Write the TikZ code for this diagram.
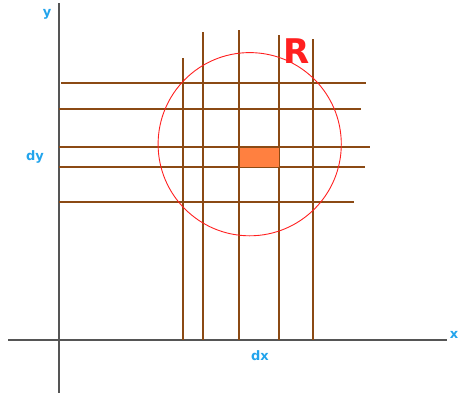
\documentclass[tikz,border=0pt]{standalone}
\usepackage{fontspec}
\setmainfont{DejaVu Sans}
\usepackage{xcolor}

\definecolor{gridbrown}{HTML}{8B4A14}
\definecolor{axisgray}{HTML}{555555}
\definecolor{labelblue}{HTML}{22A4EC}
\definecolor{cellorange}{HTML}{FF8040}
\definecolor{regionred}{HTML}{FF2020}

\begin{document}
\begin{tikzpicture}[
        x=1pt, y=-1pt,
        axis/.style={
            draw=axisgray,
            line width=1.2pt
        },
        gridline/.style={
            draw=gridbrown,
            line width=1.1pt
        },
        axislabel/.style={
            text=labelblue,
            font=\fontsize{13}{13}\selectfont\bfseries,
            inner sep=0pt
        }
    ]
    \useasboundingbox (0,0) rectangle (460,394);

    % axes
    \draw[axis] (59,3) -- (59,393);
    \draw[axis] (8,340) -- (447,340);

    % vertical strips
    \draw[gridline] (183,58) -- (183,340);
    \draw[gridline] (203,32) -- (203,340);
    \draw[gridline] (239,30) -- (239,340);
    \draw[gridline] (279,35) -- (279,340);
    \draw[gridline] (313,39) -- (313,340);

    % horizontal strips
    \draw[gridline] (61,83) -- (366,83);
    \draw[gridline] (59,109) -- (361,109);
    \draw[gridline] (59,147) -- (370,147);
    \draw[gridline] (59,167) -- (365,167);
    \draw[gridline] (59,202) -- (354,202);

    % cell and region
    \fill[cellorange] (239.5,147.5) rectangle (278.5,166.5);
    \draw[regionred, line width=0.9pt] (249.7,144.2) circle (91.6);

    \node[text=regionred, font=\fontsize{34}{34}\selectfont\bfseries, inner sep=0pt] (region) at (297,51) {R};

    \node[axislabel] (ylabel) at (47,14) {y};
    \node[axislabel] (xlabel) at (454,335) {x};
    \node[axislabel] (dylabel) at (35,157) {dy};
    \node[axislabel] (dxlabel) at (260,356) {dx};

\end{tikzpicture}
\end{document}
